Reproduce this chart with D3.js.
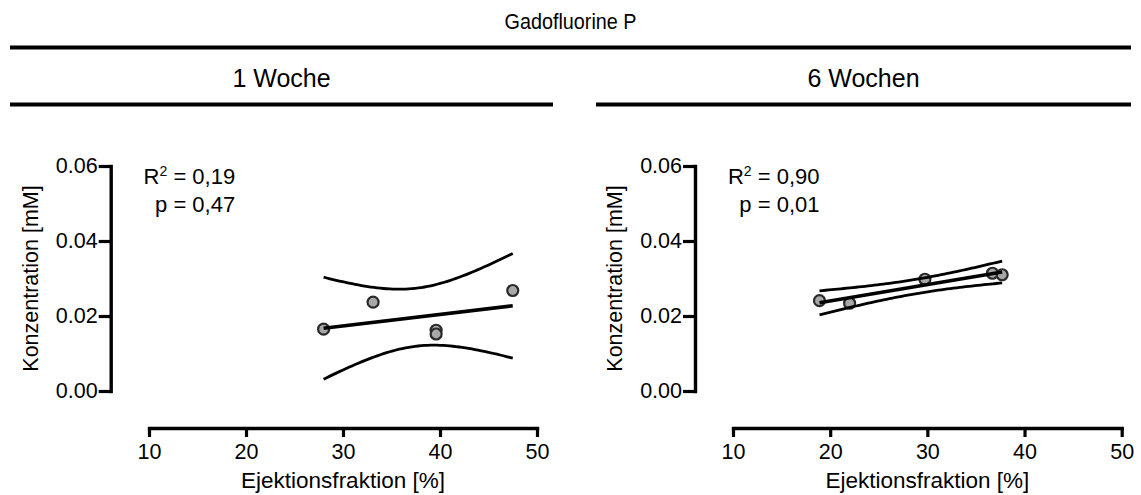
<!DOCTYPE html>
<html>
<head>
<meta charset="utf-8">
<script src="https://cdn.jsdelivr.net/npm/d3@7"></script>
<style>
  html, body { margin: 0; padding: 0; background: #fff; }
  svg { display: block; font-family: "Liberation Sans", Arial, sans-serif; }
</style>
</head>
<body>
<svg id="chart" width="1141" height="495"></svg>
<script>
// ---- data ----
const title = "Gadofluorine P";
const panelTitles = ["1 Woche", "6 Wochen"];
const xTicks = [10, 20, 30, 40, 50];
const yTicks = [0.00, 0.02, 0.04, 0.06];
const xLabel = "Ejektionsfraktion [%]";
const yLabel = "Konzentration [mM]";

const week1EF   = [28.0, 33.1, 39.6, 39.6, 47.5];
const week1Conc = [0.0165, 0.0237, 0.0162, 0.0152, 0.0268];
const week6EF   = [18.9, 22.0, 29.75, 36.7, 37.7];
const week6Conc = [0.0241, 0.0234, 0.0298, 0.0314, 0.0310];

const r2Labels = ["0,19", "0,90"];
const pLabels  = ["0,47", "0,01"];

// ---- layout ----
const svg = d3.select("#chart");

svg.append("text").attr("x", 570.5).attr("y", 29)
  .attr("text-anchor", "middle").attr("font-size", 22.5)
  .attr("textLength", 132).attr("lengthAdjust", "spacingAndGlyphs").text(title);
svg.append("line").attr("x1", 10).attr("x2", 1131).attr("y1", 47.5).attr("y2", 47.5)
  .attr("stroke", "#000").attr("stroke-width", 4);

const panels = [
  { ef: week1EF, conc: week1Conc, title: panelTitles[0], r2: r2Labels[0], p: pLabels[0],
    headX1: 10, headX2: 553, yAxisX: 110.7, xr: [149, 537] },
  { ef: week6EF, conc: week6Conc, title: panelTitles[1], r2: r2Labels[1], p: pLabels[1],
    headX1: 596, headX2: 1131, yAxisX: 695, xr: [733, 1121.7] }
];

const yRange = [391, 166];
const xAxisY = 428;

function linreg(xs, ys) {
  const n = xs.length;
  const mx = d3.mean(xs), my = d3.mean(ys);
  let sxx = 0, sxy = 0, syy = 0;
  for (let i = 0; i < n; i++) {
    sxx += (xs[i] - mx) ** 2;
    sxy += (xs[i] - mx) * (ys[i] - my);
    syy += (ys[i] - my) ** 2;
  }
  const b = sxy / sxx, a = my - b * mx;
  const s = Math.sqrt((syy - b * sxy) / (n - 2));
  return { a, b, s, mx, sxx, n };
}
const tCrit = { 3: 3.182 };

panels.forEach(P => {
  const cx = (P.headX1 + P.headX2) / 2;
  svg.append("text").attr("x", cx).attr("y", 87)
    .attr("text-anchor", "middle").attr("font-size", 25).text(P.title);
  svg.append("line").attr("x1", P.headX1).attr("x2", P.headX2).attr("y1", 104.5).attr("y2", 104.5)
    .attr("stroke", "#000").attr("stroke-width", 4);

  const x = d3.scaleLinear().domain([10, 50]).range(P.xr);
  const y = d3.scaleLinear().domain([0, 0.06]).range(yRange);

  const gy = svg.append("g").attr("transform", `translate(${P.yAxisX},0)`)
    .call(d3.axisLeft(y).tickValues(yTicks).tickFormat(d3.format(".2f"))
      .tickSize(12).tickSizeOuter(0).tickPadding(1));
  const gx = svg.append("g").attr("transform", `translate(0,${xAxisY})`)
    .call(d3.axisBottom(x).tickValues(xTicks).tickFormat(d3.format("d"))
      .tickSize(9).tickSizeOuter(0).tickPadding(7));
  [gx, gy].forEach(g => {
    g.select(".domain").attr("stroke", "#000").attr("stroke-width", 3.4).attr("stroke-linecap", "square");
    g.selectAll(".tick line").attr("stroke", "#000").attr("stroke-width", 3.2);
    g.selectAll(".tick text").attr("font-size", 21.5).attr("fill", "#000")
      .attr("font-family", "'Liberation Sans', Arial, sans-serif");
  });

  // axis titles
  svg.append("text").attr("x", (P.xr[0] + P.xr[1]) / 2).attr("y", 488)
    .attr("text-anchor", "middle").attr("font-size", 22.5).text(xLabel);
  svg.append("text")
    .attr("transform", `translate(${P.yAxisX - 73},${(yRange[0] + yRange[1]) / 2}) rotate(-90)`)
    .attr("text-anchor", "middle").attr("font-size", 21.5).text(yLabel);

  // stats text
  const tx = P.yAxisX + 124.5;
  const t1 = svg.append("text").attr("x", tx).attr("y", 184).attr("text-anchor", "end").attr("font-size", 22);
  t1.append("tspan").text("R");
  t1.append("tspan").attr("font-size", 14).attr("dy", -8).text("2");
  t1.append("tspan").attr("dy", 8).text(" = " + P.r2);
  svg.append("text").attr("x", tx).attr("y", 212).attr("text-anchor", "end").attr("font-size", 22)
    .text("p = " + P.p);

  // points
  const pts = P.ef.map((d, i) => ({ x: d, y: P.conc[i] }));
  svg.append("g").selectAll("circle").data(pts).join("circle")
    .attr("cx", d => x(d.x)).attr("cy", d => y(d.y)).attr("r", 5.5)
    .attr("fill", "#a8a8a8").attr("stroke", "#2a2a2a").attr("stroke-width", 2.2);

  // regression + 95% confidence bands
  const R = linreg(P.ef, P.conc);
  const t = tCrit[R.n - 2];
  const xmin = d3.min(P.ef), xmax = d3.max(P.ef);
  const xs = d3.range(0, 61).map(i => xmin + (xmax - xmin) * i / 60);
  const se = xv => R.s * Math.sqrt(1 / R.n + (xv - R.mx) ** 2 / R.sxx);
  const fit = xv => R.a + R.b * xv;
  const line = d3.line().x(d => x(d[0])).y(d => y(d[1])).curve(d3.curveLinear);

  svg.append("path").datum(xs.map(v => [v, fit(v) + t * se(v)])).attr("d", line)
    .attr("fill", "none").attr("stroke", "#000").attr("stroke-width", 2.8);
  svg.append("path").datum(xs.map(v => [v, fit(v) - t * se(v)])).attr("d", line)
    .attr("fill", "none").attr("stroke", "#000").attr("stroke-width", 2.8);
  svg.append("path").datum([[xmin, fit(xmin)], [xmax, fit(xmax)]]).attr("d", line)
    .attr("fill", "none").attr("stroke", "#000").attr("stroke-width", 3.6);
});
</script>
</body>
</html>
